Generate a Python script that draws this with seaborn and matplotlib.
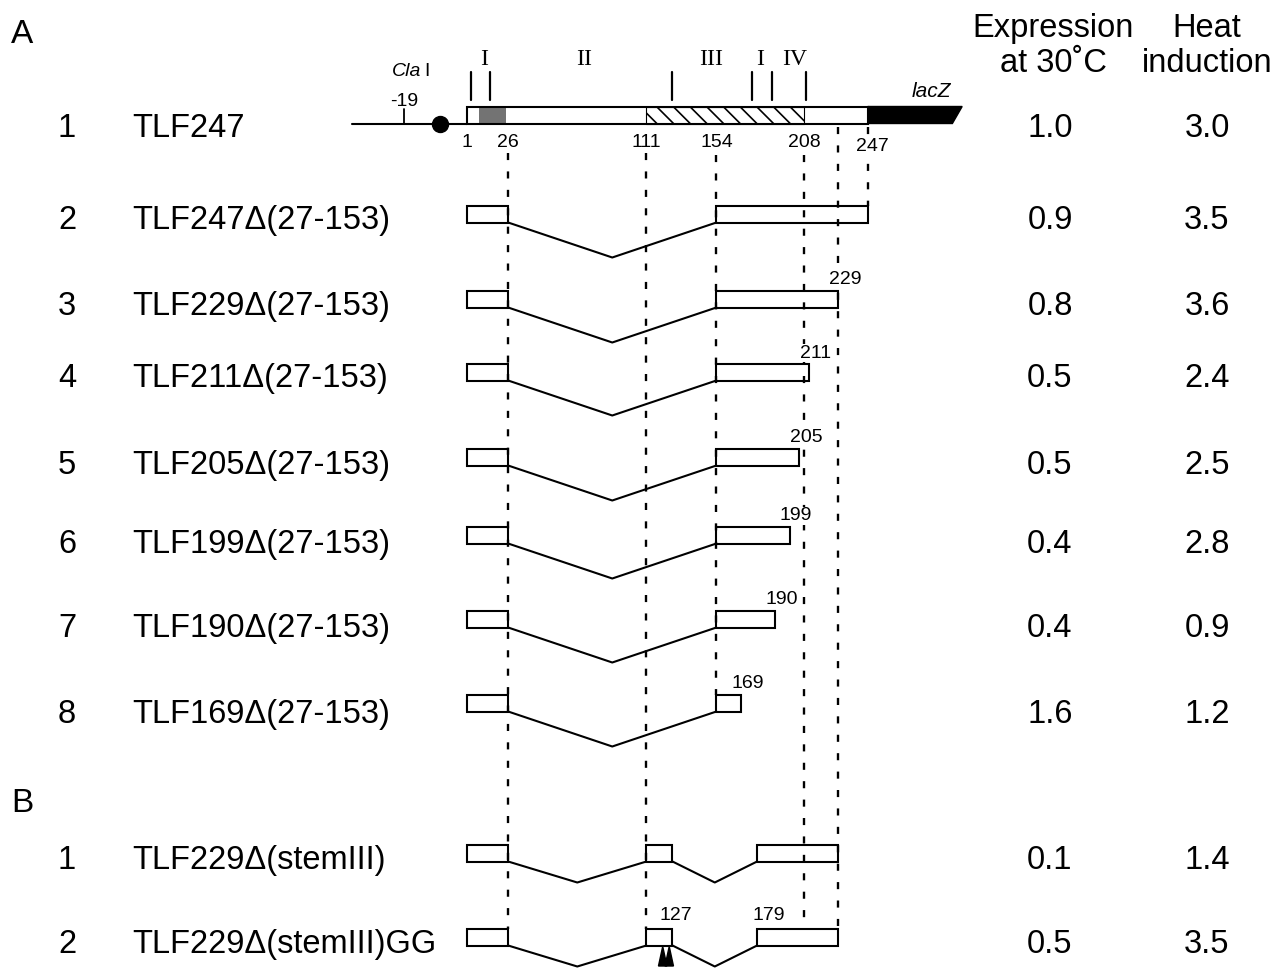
import numpy as np
import pandas as pd
import matplotlib.pyplot as plt
from matplotlib.patches import Rectangle, Polygon
import seaborn as sns

# ---- data ----
a_numbers = ["1", "2", "3", "4", "5", "6", "7", "8"]
a_names = ["TLF247", "TLF247Δ(27-153)", "TLF229Δ(27-153)", "TLF211Δ(27-153)",
           "TLF205Δ(27-153)", "TLF199Δ(27-153)", "TLF190Δ(27-153)", "TLF169Δ(27-153)"]
a_ends = [247, 247, 229, 211, 205, 199, 190, 169]
a_expr = ["1.0", "0.9", "0.8", "0.5", "0.5", "0.4", "0.4", "1.6"]
a_heat = ["3.0", "3.5", "3.6", "2.4", "2.5", "2.8", "0.9", "1.2"]
deletion = (26, 154)          # last kept / first kept nt around 27-153

b_numbers = ["1", "2"]
b_names = ["TLF229Δ(stemIII)", "TLF229Δ(stemIII)GG"]
b_expr = ["0.1", "0.5"]
b_heat = ["1.4", "3.5"]
b_exons = [(1, 26), (111, 127), (179, 229)]
gg_sites = [121, 125]

leader_marks = [1, 26, 111, 154, 208, 247]
stipple_region = (8, 25)
hatch_region = (111, 208)
stem_ticks = [3, 15, 127, 176, 188, 209]
stem_names = ["I", "II", "III", "I", "IV"]
stem_pos = [11, 73, 151, 181, 202]

# ---- layout (pixels of the 1282x968 page, nt on x) ----
W, H = 1282, 968
X0, PX = 465.8, 1.6274
row_a = [115, 214, 299, 372, 457, 535, 619, 703]
text_a = [125, 217, 303, 375, 462, 541, 625, 711]
row_b = [853, 937]
text_b = [857, 941]
BH = 17
LW = 1.5
CAP = 12

sns.set_theme(style="white")
plt.rcParams['font.family'] = ['Liberation Sans', 'DejaVu Sans']
plt.rcParams['text.color'] = 'black'
plt.rcParams['hatch.linewidth'] = 1.2

fig = plt.figure(figsize=(12.82, 9.68), dpi=100)
ax = fig.add_axes([0, 0, 1, 1])
tr = ax.get_yaxis_transform()
big = 23.5
small = 14
label_bg = dict(boxstyle="square,pad=0.05", fc="white", ec="none")

# dashed guide lines
guide_nt = [26, 111, 154, 208, 229, 247]
guide_span = [(153, 929), (153, 929), (155, 695), (155, 929), (127, 929), (127, 206)]
for g, (y0, y1) in zip(guide_nt, guide_span):
    ax.plot([g, g], [y0, y1], color="black", lw=1.7, ls=(0, (3.0, 4.8)), zorder=1)

# connector lines (the deleted stretches)
rows = []
for i, yc in enumerate(row_a[1:]):
    bot = yc + BH / 2
    lo, hi = deletion
    for nt, dy in [(lo, 0), ((lo + hi) / 2, 35), (hi, 0)]:
        rows.append({"nt": nt, "y": bot + dy, "seg": f"a{i}"})
for i, yc in enumerate(row_b):
    bot = yc + BH / 2
    for k in range(len(b_exons) - 1):
        lo, hi = b_exons[k][1], b_exons[k + 1][0]
        for nt, dy in [(lo, 0), ((lo + hi) / 2, 21), (hi, 0)]:
            rows.append({"nt": nt, "y": bot + dy, "seg": f"b{i}{k}"})
links = pd.DataFrame(rows)
sns.lineplot(data=links, x="nt", y="y", units="seg", estimator=None, sort=False,
             color="black", linewidth=LW, ax=ax, legend=False)


def box(x0, x1, yc, **kw):
    ax.add_patch(Rectangle((x0, yc - BH / 2), x1 - x0, BH, fill=False,
                           ec="black", lw=LW, zorder=3, **kw))


# --- construct 1: full leader ---
y1 = row_a[0]
top, bot = y1 - BH / 2, y1 + BH / 2
ax.plot([-70, 1], [bot, bot], color="black", lw=LW, zorder=2)
ax.plot([-16], [bot], "o", color="black", ms=11.5, zorder=4)
ax.plot([-38, -38], [bot - 15, bot], color="black", lw=1.3)
ax.text(-38, 100 + 6, "-19", ha="center", va="baseline", fontsize=small)
ax.text(-27.5, 70 + 6, "Cla", ha="right", va="baseline", fontsize=small, style="italic")
ax.text(-25.5, 70 + 6, "I", ha="left", va="baseline", fontsize=small)
ax.add_patch(Rectangle((stipple_region[0], top), stipple_region[1] - stipple_region[0], BH,
                       fc="0.45", ec="none", hatch="....", zorder=2))
ax.add_patch(Rectangle((hatch_region[0], top), hatch_region[1] - hatch_region[0], BH,
                       fc="white", ec="black", lw=0.8, hatch="\\\\", zorder=2))
box(1, 247, y1)
ax.add_patch(Polygon([(247, top), (305, top), (299, bot), (247, bot)],
                     closed=True, fc="black", ec="black", lw=1, zorder=3))
ax.text(286, 90 + 7, "lacZ", ha="center", va="baseline", fontsize=15, style="italic")
for t in stem_ticks:
    ax.plot([t, t], [72, 100], color="black", lw=1.6)
for name, p in zip(stem_names, stem_pos):
    ax.text(p, 58 + 7, name, ha="center", va="baseline", fontsize=17,
            family=["Liberation Serif", "DejaVu Serif"])
for m in leader_marks:
    yy = 145 if m == 247 else 141
    dx = 3 if m == 247 else 0
    ax.text(m + dx, yy + 6, str(m), ha="center", va="baseline", fontsize=small,
            bbox=label_bg, zorder=5)

# --- constructs 2-8 ---
for yc, end in zip(row_a[1:], a_ends[1:]):
    box(1, deletion[0], yc)
    box(deletion[1], end, yc)
for yc, end in zip(row_a[2:], a_ends[2:]):
    ax.text(end + 4, yc - BH / 2 - 12 + 6, str(end), ha="center", va="baseline",
            fontsize=small, bbox=label_bg, zorder=5)

# --- panel B ---
for yc in row_b:
    for lo, hi in b_exons:
        box(lo, hi, yc)
yb = row_b[1]
ax.text(b_exons[1][1] + 2, yb - BH / 2 - 14 + 6, str(b_exons[1][1]),
        ha="center", va="baseline", fontsize=small)
ax.text(b_exons[2][0] + 7, yb - BH / 2 - 14 + 6, str(b_exons[2][0]),
        ha="center", va="baseline", fontsize=small)
for s in gg_sites:
    ax.fill([s - 2.6, s, s + 2.6], [966, yb + BH / 2 + 1, 966], color="black", zorder=4)

# --- text columns ---
ax.text(11 / W, 43, "A", transform=tr, fontsize=24, va="baseline", ha="left")
ax.text(11 / W, 812, "B", transform=tr, fontsize=24, va="baseline", ha="left")
for num, name, ty, e, h in zip(a_numbers + b_numbers, a_names + b_names, text_a + text_b,
                               a_expr + b_expr, a_heat + b_heat):
    ax.text(67 / W, ty + CAP, num, transform=tr, fontsize=big, ha="center", va="baseline")
    ax.text(132 / W, ty + CAP, name, transform=tr, fontsize=big, ha="left", va="baseline")
    ax.text(1050 / W, ty + CAP, e, transform=tr, fontsize=big, ha="center", va="baseline")
    ax.text(1207 / W, ty + CAP, h, transform=tr, fontsize=big, ha="center", va="baseline")

ax.text(1053 / W, 37, "Expression", transform=tr, fontsize=big, ha="center", va="baseline")
ax.text(1053 / W, 72, "at 30˚C", transform=tr, fontsize=big, ha="center", va="baseline")
ax.text(1207 / W, 37, "Heat", transform=tr, fontsize=big, ha="center", va="baseline")
ax.text(1207 / W, 72, "induction", transform=tr, fontsize=big, ha="center", va="baseline")

ax.set_xlim(-X0 / PX, (W - X0) / PX)
ax.set_ylim(H, 0)
ax.axis("off")

fig.savefig("out.png", dpi=100, facecolor="white")
